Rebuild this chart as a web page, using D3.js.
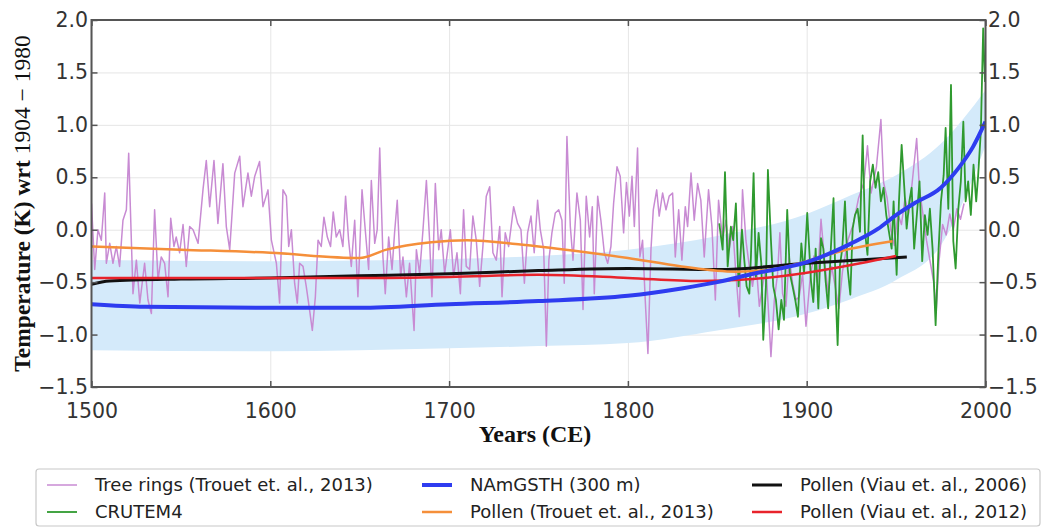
<!DOCTYPE html>
<html><head><meta charset="utf-8">
<script src="https://cdn.jsdelivr.net/npm/d3@7"></script>
<style>html,body{margin:0;padding:0;background:#fff;}svg{display:block;}</style>
</head><body>
<script>
// ---------- DATA ----------
const xTicks = [1500, 1600, 1700, 1800, 1900, 2000];
const yTicks = [-1.5, -1.0, -0.5, 0.0, 0.5, 1.0, 1.5, 2.0];

const treeYears = [1500,1501.8,1503.6,1505.5,1507.4,1508.3,1510.2,1512.0,1513.9,1515.7,1517.6,1519.5,1520.8,1523.2,1525.1,1527.0,1529.7,1531.6,1533.5,1535.3,1537.2,1539.0,1540.9,1542.8,1544.3,1546.1,1547.4,1549.3,1551.2,1553.0,1554.9,1556.8,1559.6,1562.4,1564.2,1566.1,1568.5,1570.7,1573.5,1575.4,1577.3,1580.1,1582.9,1584.7,1587.5,1589.4,1591.3,1594.0,1595.9,1598.7,
1600.6,1603.4,1605.2,1607.1,1609.0,1610.3,1611.8,1613.6,1615.1,1616.4,1618.3,1620.1,1622.0,1623.5,1625.2,1626.7,1628.5,1630.0,1631.9,1633.7,1635.2,1636.9,1638.8,1640.6,1642.1,1643.8,1645.3,1647.2,1649.0,1651.3,1653.1,1655.0,1656.5,1658.4,1659.8,1661.2,1663.0,1664.3,1666.2,1668.1,1669.5,1671.0,1672.9,1674.2,1676.1,1677.9,1680.4,1681.7,1683.5,1685.4,1687.3,1689.1,1690.4,1692.3,1694.2,1695.6,1697.5,
1700.7,1702.5,1704.4,1706.3,1708.1,1709.6,1711.5,1713.3,1715.2,1717.1,1718.9,1720.8,1722.7,1724.5,1726.4,1728.3,1729.6,1731.4,1733.3,1736.1,1738.3,1740.2,1742.1,1743.9,1745.8,1747.6,1749.5,1751.0,1752.9,1754.4,1755.8,1757.5,1759.4,1761.3,1763.1,1764.4,1765.9,1767.8,1769.3,1771.5,1773.4,1774.9,1776.7,1778.6,1780.1,1781.2,1783.1,1784.9,1786.8,1788.7,1790.5,1792.0,1793.9,1795.7,1797.6,1799.2,
1800.8,1802.3,1803.6,1805.4,1806.7,1808.2,1809.7,1811.2,1812.9,1814.2,1816.1,1817.5,1819.4,1821.3,1823.1,1825.0,1826.5,1828.4,1830.2,1832.1,1833.4,1835.3,1837.1,1839.0,1840.8,1842.7,1845.1,1847.0,1848.9,1850.7,1853.0,1854.8,1856.7,1858.6,1860.4,1862.3,1864.1,1866.0,1867.9,1869.7,1871.6,1873.5,1875.3,1877.2,1878.7,1880.0,1881.9,1883.7,1885.0,1886.5,1888.4,1890.2,1892.1,1894.0,1895.8,1897.7,1899.6,
1902,1904,1906,1908,1910,1912,1914,1916,1918,1920,1923,1926,1929,1932,1934,1936,1939,1941.5,1943,1945,1947,1949,1951,1953,1955,1957,1959,1961.5,1963,1965,1967,1969,1971,1972.5,1974,1976,1978,1980,1982,1984,1986,1988];
const treeTemps = [0.25,-0.38,0.00,-0.10,0.35,-0.32,-0.13,-0.32,-0.16,-0.35,0.09,0.19,0.73,-0.61,-0.29,-0.70,-0.32,-0.67,-0.80,0.19,-0.48,-0.26,-0.32,-0.64,0.11,-0.16,-0.07,-0.22,0.05,-0.35,0.03,0.00,-0.13,0.39,0.66,0.22,0.66,0.06,0.63,0.03,-0.19,0.54,0.70,0.22,0.54,0.32,0.51,0.65,0.22,0.38,
-0.10,-0.32,-0.70,0.38,0.32,-0.16,0.00,-0.51,-0.70,-0.32,-0.35,-0.54,-0.77,-0.96,-0.64,-0.10,-0.16,0.12,-0.07,-0.16,0.17,-0.07,0.00,-0.16,0.32,-0.10,-0.35,0.09,-0.64,0.38,0.00,-0.38,0.47,-0.13,0.00,0.78,-0.26,-0.61,-0.07,-0.38,-0.03,0.28,-0.45,-0.26,-0.64,-0.32,-0.96,-0.19,-0.42,0.00,0.47,-0.10,-0.64,0.44,-0.19,0.00,-0.42,
0.00,-0.45,-0.22,-0.61,0.19,-0.35,-0.38,0.13,-0.10,-0.54,-0.16,0.32,0.41,-0.22,-0.29,0.03,-0.64,-0.03,-0.16,0.22,0.06,0.00,-0.51,-0.03,0.13,-0.22,0.28,0.00,-0.19,-1.11,-0.29,-0.03,0.16,0.19,0.09,-0.51,0.89,0.03,-0.29,0.35,0.09,-0.76,0.32,-0.07,0.22,-0.61,0.32,0.09,-0.22,-0.32,-0.16,0.25,0.60,0.51,-0.03,0.45,
0.13,0.51,0.03,0.78,-0.26,-0.10,-0.67,-1.18,-0.19,0.19,0.38,0.13,0.35,0.19,0.32,0.35,-0.26,0.19,-0.29,0.22,0.03,0.54,0.09,0.44,0.28,-0.26,0.38,0.03,-0.67,0.28,-0.10,0.09,-0.19,0.03,-0.42,-0.83,0.38,-0.10,-0.35,-0.54,-0.29,-0.73,-0.54,-0.35,-0.80,-1.21,-0.67,-0.42,-0.03,-0.61,-0.73,-0.26,-0.51,-0.67,-0.64,-0.42,-0.92,
-0.45,-0.25,-0.50,0.10,-0.30,-0.60,-0.35,-0.55,-0.75,-0.40,-0.10,0.05,0.30,0.45,0.80,0.35,0.60,1.05,0.45,0.30,0.00,-0.15,0.15,0.05,0.30,0.15,0.45,0.87,0.40,0.15,-0.10,-0.30,-0.50,-0.75,-0.30,0.05,-0.05,0.15,0.00,0.20,0.10,0.25];

const cruYears = [1851.1,1853.0,1854.3,1855.8,1857.6,1858.9,1860.4,1861.9,1863.8,1865.1,1866.4,1867.9,1868.8,1870.3,1871.6,1873.1,1874.6,1875.7,1877.2,1878.3,1880.0,1881.3,1882.8,1884.3,1885.8,1887.3,1889.1,1890.6,1892.1,1893.6,1895.1,1897.0,1898.5,1900.3,1902.4,1903.7,1905.0,1906.5,1908.0,1909.3,1910.6,1912.0,1913.5,1915.0,1916.3,1917.3,1918.6,1919.9,1921.4,1922.9,1924.4,1925.7,1927.0,1928.5,1929.8,1931.3,1932.6,1934.0,1935.5,1937.0,1938.5,1940.0,1941.5,1943.0,1944.5,1946.0,1947.5,1948.6,1950.3,1951.6,1953.1,1954.6,1955.9,1957.4,1958.7,1960.1,1961.6,1963.1,1964.6,1966.1,1967.6,1968.9,1970.4,1972.1,1973.6,1975.1,1976.6,1977.7,1979.2,1980.7,1982.0,1983.3,1984.8,1986.2,1987.6,1988.9,1990.3,1991.8,1993.3,1994.8,1995.9,1997.4,1998.7,1999.7];
const cruTemps = [0.06,-0.19,0.55,-0.35,0.03,-0.10,0.25,-0.54,0.00,-0.29,-0.54,-0.61,-0.26,0.54,-0.45,-0.03,-0.32,-1.05,-0.54,0.57,-0.10,-0.54,-0.67,-0.95,-0.67,-0.86,0.19,-0.42,-0.54,-0.67,-0.83,-0.13,-0.42,0.16,-0.49,-0.69,-0.18,-0.75,-0.08,-0.18,-0.49,-0.75,-0.18,0.30,-0.65,-1.10,-0.34,-0.18,0.27,-0.37,-0.62,0.01,0.14,0.20,-0.02,0.90,-0.02,-0.24,0.46,0.62,0.40,0.55,0.27,0.40,0.14,-0.02,-0.18,0.27,-0.43,0.27,0.81,0.40,0.01,0.27,0.40,-0.18,0.14,0.46,-0.30,0.14,-0.05,0.20,-0.18,-0.91,-0.24,0.27,0.52,0.97,0.20,1.38,-0.11,-0.37,0.20,0.46,1.03,0.27,0.46,0.14,0.62,0.27,0.52,0.94,1.92,1.41];

const gsthYears = [1500,1530,1600,1650,1700,1750,1800,1830,1850,1870,1900,1925,1940,1950,1960,1975,1985,1993,2000];
const gsthTemps = [-0.71,-0.735,-0.745,-0.745,-0.71,-0.68,-0.63,-0.56,-0.50,-0.42,-0.31,-0.13,0.01,0.14,0.25,0.40,0.59,0.79,1.03];
const bandYears = [1500,1600,1700,1750,1800,1850,1900,1925,1950,1975,2000];
const bandUpper = [-0.29,-0.30,-0.28,-0.25,-0.19,-0.06,0.15,0.33,0.52,0.82,1.33];
const bandLower = [-1.15,-1.16,-1.13,-1.11,-1.08,-0.96,-0.80,-0.66,-0.48,-0.15,0.80];

const trouetYears = [1500,1550,1600,1650,1665,1690,1710,1740,1770,1800,1830,1860,1880,1900,1920,1948];
const trouetTemps = [-0.16,-0.19,-0.22,-0.27,-0.19,-0.12,-0.10,-0.14,-0.20,-0.27,-0.35,-0.40,-0.38,-0.30,-0.20,-0.11];
const viau06Years = [1500,1510,1550,1600,1650,1700,1750,1800,1850,1900,1956];
const viau06Temps = [-0.52,-0.49,-0.47,-0.46,-0.44,-0.42,-0.39,-0.37,-0.38,-0.32,-0.26];
const viau12Years = [1500,1550,1600,1650,1700,1750,1800,1840,1870,1900,1930,1950];
const viau12Temps = [-0.46,-0.46,-0.46,-0.46,-0.45,-0.43,-0.46,-0.49,-0.47,-0.41,-0.32,-0.25];

const legendLabels = ["Tree rings (Trouet et. al., 2013)", "CRUTEM4", "NAmGSTH (300 m)",
  "Pollen (Trouet et. al., 2013)", "Pollen (Viau et. al., 2006)", "Pollen (Viau et. al., 2012)"];

// ---------- STYLE ----------
const W = 1045, H = 527;
const L = 91.5, R = 985.5, T = 20, B = 387;
const C = {tree:"#c88bd3", cru:"#2f9a2f", gsth:"#2e3cf0", trouet:"#f58f3a", v06:"#111111", v12:"#e8232b", band:"#d4eafa"};
const tickFont = "DejaVu Sans, sans-serif";

const svg = d3.select("body").append("svg").attr("width", W).attr("height", H);
const x = d3.scaleLinear().domain([1500, 2000]).range([L, R]);
const y = d3.scaleLinear().domain([-1.5, 2.0]).range([B, T]);

svg.append("defs").append("clipPath").attr("id","clip")
  .append("rect").attr("x",L).attr("y",T).attr("width",R-L).attr("height",B-T);

// grid
const grid = svg.append("g");
grid.append("g").attr("transform",`translate(0,${B})`)
  .call(d3.axisBottom(x).tickValues(xTicks).tickSize(-(B-T)).tickFormat(""))
  .call(g=>{g.select(".domain").remove(); g.selectAll("line").attr("stroke","#e6e6e6").attr("stroke-width",1);});
grid.append("g").attr("transform",`translate(${L},0)`)
  .call(d3.axisLeft(y).tickValues(yTicks).tickSize(-(R-L)).tickFormat(""))
  .call(g=>{g.select(".domain").remove(); g.selectAll("line").attr("stroke","#e6e6e6").attr("stroke-width",1);});

const plot = svg.append("g").attr("clip-path","url(#clip)");
const bandData = bandYears.map((yr,i)=>({yr, u:bandUpper[i], l:bandLower[i]}));
plot.append("path").datum(bandData)
  .attr("d", d3.area().x(d=>x(d.yr)).y0(d=>y(d.l)).y1(d=>y(d.u)).curve(d3.curveMonotoneX))
  .attr("fill", C.band);

function series(ys, vs){ return ys.map((yr,i)=>({yr, v:vs[i]})); }
const lin = d3.line().x(d=>x(d.yr)).y(d=>y(d.v));
const smooth = d3.line().x(d=>x(d.yr)).y(d=>y(d.v)).curve(d3.curveMonotoneX);

plot.append("path").datum(series(treeYears, treeTemps)).attr("d", lin)
  .attr("fill","none").attr("stroke",C.tree).attr("stroke-width",1.5).attr("stroke-linejoin","round");
plot.append("path").datum(series(cruYears, cruTemps)).attr("d", lin)
  .attr("fill","none").attr("stroke",C.cru).attr("stroke-width",1.8).attr("stroke-linejoin","round");
plot.append("path").datum(series(viau06Years, viau06Temps)).attr("d", smooth)
  .attr("fill","none").attr("stroke",C.v06).attr("stroke-width",3);
plot.append("path").datum(series(viau12Years, viau12Temps)).attr("d", smooth)
  .attr("fill","none").attr("stroke",C.v12).attr("stroke-width",2.5);
plot.append("path").datum(series(trouetYears, trouetTemps)).attr("d", smooth)
  .attr("fill","none").attr("stroke",C.trouet).attr("stroke-width",2.5);
plot.append("path").datum(series(gsthYears, gsthTemps)).attr("d", smooth)
  .attr("fill","none").attr("stroke",C.gsth).attr("stroke-width",4);

// axes
function styleAxis(g){
  g.select(".domain").remove();
  g.selectAll("line").attr("stroke","#555").attr("stroke-width",1.5);
  g.selectAll("text").attr("font-family",tickFont).attr("font-size",20.5).attr("fill","#333");
}
svg.append("g").attr("transform",`translate(0,${B})`)
  .call(d3.axisBottom(x).tickValues(xTicks).tickSize(-6).tickPadding(16.5).tickFormat(d3.format("d"))).call(styleAxis);
svg.append("g").attr("transform",`translate(0,${T})`)
  .call(d3.axisTop(x).tickValues(xTicks).tickSize(-6).tickFormat("")).call(styleAxis);
svg.append("g").attr("transform",`translate(${L},0)`)
  .call(d3.axisLeft(y).tickValues(yTicks).tickSize(-6).tickPadding(3.5).tickFormat(d3.format(".1f"))).call(styleAxis);
svg.append("g").attr("transform",`translate(${R},0)`)
  .call(d3.axisRight(y).tickValues(yTicks).tickSize(-6).tickPadding(2.5).tickFormat(d3.format(".1f"))).call(styleAxis);

svg.append("rect").attr("x",L).attr("y",T).attr("width",R-L).attr("height",B-T)
  .attr("fill","none").attr("stroke","#555").attr("stroke-width",2);

// axis labels
svg.append("text").attr("x",535).attr("y",442).attr("text-anchor","middle")
  .attr("font-family","Liberation Serif, serif").attr("font-weight","bold").attr("font-size",24).attr("fill","#111")
  .text("Years (CE)");
const yl = svg.append("text").attr("transform",`translate(30,${(T+B)/2}) rotate(-90)`).attr("text-anchor","middle")
  .attr("font-family","Liberation Serif, serif").attr("font-size",23.5).attr("fill","#111");
yl.append("tspan").attr("font-weight","bold").text("Temperature (K) wrt ");
yl.append("tspan").text("1904 \u2212 1980");

// legend
const lg = svg.append("g");
lg.append("rect").attr("x",36).attr("y",469).attr("width",1004).attr("height",57).attr("rx",3)
  .attr("fill","#fff").attr("stroke","#c8c8c8").attr("stroke-width",1.2);
const items = [
  {c:C.tree, w:1.5, col:0, row:0}, {c:C.cru, w:1.8, col:0, row:1},
  {c:C.gsth, w:4, col:1, row:0}, {c:C.trouet, w:2.5, col:1, row:1},
  {c:C.v06, w:3, col:2, row:0}, {c:C.v12, w:2.5, col:2, row:1}];
const colX = [47, 422, 752], rowY = [485, 512];
items.forEach((it,i)=>{
  lg.append("line").attr("x1",colX[it.col]).attr("x2",colX[it.col]+30)
    .attr("y1",rowY[it.row]).attr("y2",rowY[it.row]).attr("stroke",it.c).attr("stroke-width",it.w);
  lg.append("text").attr("x",colX[it.col]+48).attr("y",rowY[it.row]).attr("dy","0.35em")
    .attr("font-family",tickFont).attr("font-size",18).attr("fill","#222").text(legendLabels[i]);
});
</script>
</body></html>
